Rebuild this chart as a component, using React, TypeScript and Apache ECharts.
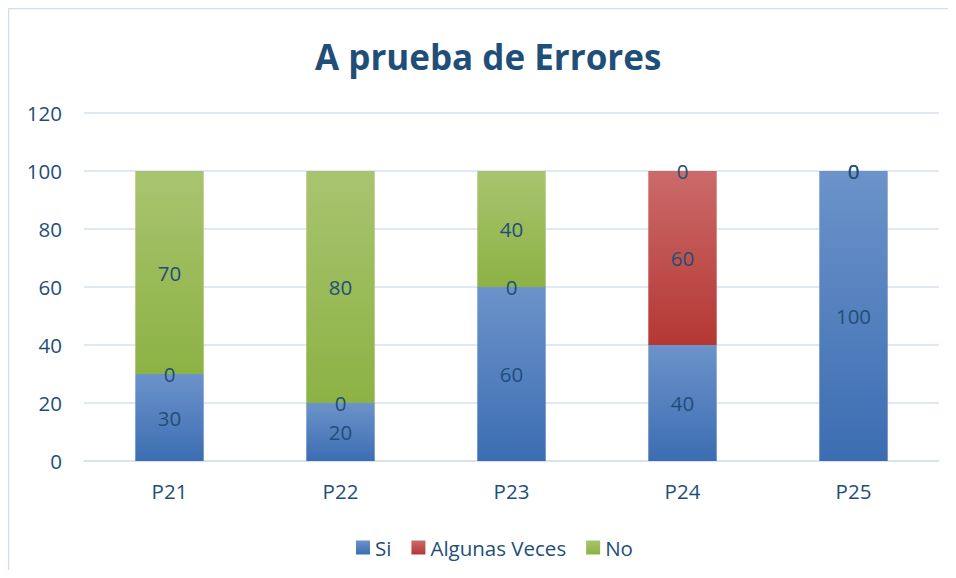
import React, { useEffect, useRef } from "react";
import * as echarts from "echarts";

const categories = ["P21", "P22", "P23", "P24", "P25"];
const siValues = [30, 20, 60, 40, 100];
const algunasValues = [0, 0, 0, 60, 0];
const noValues = [70, 80, 40, 0, 0];
const yTicks = { min: 0, max: 120, interval: 20 };

const textColor = "#1F4E79";
const font = "Open Sans";
const fs = 20.5;

function grad(top: string, bottom: string) {
  return new echarts.graphic.LinearGradient(0, 0, 0, 1, [
    { offset: 0, color: top },
    { offset: 1, color: bottom },
  ]);
}

export default function App() {
  const ref = useRef<HTMLDivElement>(null);
  useEffect(() => {
    if (!ref.current) return;
    const chart = echarts.init(ref.current, undefined, { renderer: "svg" });
    const label = {
      show: true,
      position: "inside",
      color: textColor,
      fontSize: fs,
      fontFamily: font,
    };
    chart.setOption({
      animation: false,
      backgroundColor: "#ffffff",
      title: {
        text: "A prueba de Errores",
        left: 302,
        top: 26,
        textStyle: { color: textColor, fontSize: 35, fontWeight: "bold", fontFamily: font },
      },
      graphic: [
        { type: "line", shape: { x1: 0.5, y1: 0.5, x2: 940, y2: 0.5 }, style: { stroke: "#D0DEEF", lineWidth: 1.5 } },
        { type: "line", shape: { x1: 0.5, y1: 0.5, x2: 0.5, y2: 562 }, style: { stroke: "#D0DEEF", lineWidth: 1.5 } },
      ],
      legend: {
        top: 524,
        left: 343,
        itemWidth: 14,
        itemHeight: 14,
        itemGap: 20,
        icon: "rect",
        textStyle: { color: textColor, fontSize: fs, fontFamily: font },
        data: ["Si", "Algunas Veces", "No"],
      },
      grid: { left: 76, right: 9, top: 105, bottom: 109, containLabel: false },
      xAxis: {
        type: "category",
        data: categories,
        axisLine: { lineStyle: { color: "#D6E1EF", width: 1.5 } },
        axisTick: { show: false },
        axisLabel: { color: textColor, fontSize: fs, fontFamily: font, margin: 19 },
      },
      yAxis: {
        type: "value",
        min: yTicks.min,
        max: yTicks.max,
        interval: yTicks.interval,
        axisLine: { show: false },
        axisTick: { show: false },
        splitLine: { lineStyle: { color: "#D6E1EF", width: 1.5 } },
        axisLabel: { color: textColor, fontSize: fs, fontFamily: font, margin: 22 },
      },
      series: [
        {
          name: "Si",
          type: "bar",
          stack: "total",
          barWidth: "40%",
          data: siValues,
          itemStyle: { color: grad("#6C93CA", "#3C6DB2") },
          label,
        },
        {
          name: "Algunas Veces",
          type: "bar",
          stack: "total",
          data: algunasValues,
          itemStyle: { color: grad("#CA6B6A", "#B53733") },
          label,
        },
        {
          name: "No",
          type: "bar",
          stack: "total",
          data: noValues,
          itemStyle: { color: grad("#A9C46F", "#8CB244") },
          label,
        },
      ],
    });
    return () => chart.dispose();
  }, []);
  return <div ref={ref} style={{ width: 940, height: 562 }} />;
}
